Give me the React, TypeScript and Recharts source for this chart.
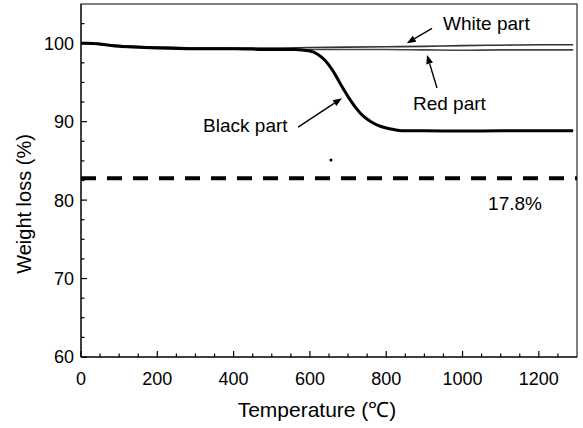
import {
  ComposedChart,
  Line,
  XAxis,
  YAxis,
  ReferenceLine,
  ReferenceDot,
} from 'recharts'

const FONT = '"Liberation Sans", Arial, Helvetica, sans-serif'

// TGA curves
const blackTemp = [0, 20, 50, 100, 150, 200, 300, 400, 500, 560, 600, 620, 640, 660, 680, 700, 720, 740, 760, 780, 800, 820, 840, 900, 1000, 1100, 1200, 1290]
const blackWeight = [100, 100, 99.9, 99.6, 99.5, 99.4, 99.3, 99.3, 99.2, 99.2, 99.0, 98.6, 97.8, 96.5, 94.8, 93.2, 91.8, 90.7, 90.0, 89.5, 89.2, 89.0, 88.85, 88.85, 88.8, 88.85, 88.85, 88.85]

const lightTemp = [0, 100, 200, 300, 400, 500, 600, 700, 800, 900, 1000, 1100, 1200, 1290]
const whiteWeight = [100, 99.7, 99.5, 99.4, 99.4, 99.4, 99.45, 99.5, 99.55, 99.6, 99.7, 99.75, 99.8, 99.8]
const redWeight = [100, 99.7, 99.5, 99.4, 99.3, 99.25, 99.2, 99.2, 99.2, 99.15, 99.1, 99.15, 99.15, 99.15]

const residue = 82.8 // 17.8 % loss line

const X_DOMAIN = [0, 1300]
const Y_DOMAIN = [60, 105]
const xMajor = [0, 200, 400, 600, 800, 1000, 1200]
const xMinor = Array.from({ length: 26 }, (_, i) => i * 50)
const yMajor = [60, 70, 80, 90, 100]
const yMinor = Array.from({ length: 18 }, (_, i) => 60 + i * 2.5)

const toPoints = (t: number[], w: number[]) => t.map((temp, i) => ({ temp, weight: w[i] }))

const blackData = toPoints(blackTemp, blackWeight)
const whiteData = toPoints(lightTemp, whiteWeight)
const redData = toPoints(lightTemp, redWeight)

// annotation anchors (data units)
const notes = [
  { text: 'White part', temp: 949, weight: 101.7 },
  { text: 'Red part', temp: 870, weight: 91.5 },
  { text: 'Black part', temp: 320, weight: 88.7 },
  { text: '17.8%', temp: 1067, weight: 78.7 },
]
const arrows = [
  { from: { x: 920, y: 101.9 }, to: { x: 854, y: 100.0 } },
  { from: { x: 933, y: 94.3 }, to: { x: 907, y: 98.5 } },
  { from: { x: 569, y: 89.3 }, to: { x: 684, y: 93.0 } },
]

// two points inside the plot; the library maps them to pixels and the frame
// and the inward tick marks are placed from that mapping
const calib = [{ x: 100, y: 65 }, { x: 1200, y: 100 }]

const tickFont = { fontSize: 18, fontFamily: FONT, fill: '#000' }

function Arrow(props: any) {
  const { x1, y1, x2, y2 } = props
  const a = Math.atan2(y2 - y1, x2 - x1)
  const len = 9
  const half = 3.5
  const bx = x2 - len * Math.cos(a)
  const by = y2 - len * Math.sin(a)
  const pts = [
    `${x2},${y2}`,
    `${bx + half * Math.sin(a)},${by - half * Math.cos(a)}`,
    `${bx - half * Math.sin(a)},${by + half * Math.cos(a)}`,
  ].join(' ')
  return (
    <g>
      <line x1={x1} y1={y1} x2={bx} y2={by} stroke="#000" strokeWidth={1.4} />
      <polygon points={pts} fill="#000" />
    </g>
  )
}

function FrameAndTicks(props: any) {
  const { x1, y1, x2, y2 } = props
  const sx = (x2 - x1) / (calib[1].x - calib[0].x)
  const sy = (y2 - y1) / (calib[1].y - calib[0].y)
  const X = (v: number) => x1 + (v - calib[0].x) * sx
  const Y = (v: number) => y1 + (v - calib[0].y) * sy
  const left = X(X_DOMAIN[0])
  const right = X(X_DOMAIN[1])
  const top = Y(Y_DOMAIN[1])
  const bottom = Y(Y_DOMAIN[0])
  return (
    <g>
      <rect x={left} y={top} width={right - left} height={bottom - top} fill="none" stroke="#000" strokeWidth={1} />
      {xMinor.map((v) => (
        <line
          key={`xt-${v}`}
          x1={X(v)}
          x2={X(v)}
          y1={bottom}
          y2={bottom - (v % 200 === 0 ? 6 : 3.5)}
          stroke="#000"
          strokeWidth={1.2}
        />
      ))}
      {yMinor.map((v) => (
        <line
          key={`yt-${v}`}
          x1={left}
          x2={left + (v % 10 === 0 ? 6 : 3.5)}
          y1={Y(v)}
          y2={Y(v)}
          stroke="#000"
          strokeWidth={1.2}
        />
      ))}
    </g>
  )
}

const noteShape = (text: string) => (p: any) => (
  <text x={p.cx} y={p.cy} fontSize={19} fontFamily={FONT} fill="#000">
    {text}
  </text>
)

export default function App() {
  return (
    <div style={{ position: 'absolute', left: 0, top: 0, background: '#fff' }}>
      <ComposedChart
        width={583}
        height={428}
        margin={{ top: 4, right: 6, left: 0, bottom: 0 }}
      >
        <XAxis
          dataKey="temp"
          type="number"
          domain={X_DOMAIN}
          ticks={xMajor}
          interval={0}
          allowDataOverflow
          height={71}
          tickSize={0}
          tickMargin={15}
          tickLine={false}
          axisLine={{ stroke: '#000' }}
          tick={tickFont}
          label={{
            content: (p: any) => {
              const vb = p.viewBox
              return (
                <text
                  x={vb.x + vb.width / 2 - 12}
                  y={vb.y + 60}
                  textAnchor="middle"
                  fontSize={21}
                  fontFamily={FONT}
                  fill="#000"
                >
                  Temperature (℃)
                </text>
              )
            },
          }}
        />
        <YAxis
          type="number"
          domain={Y_DOMAIN}
          ticks={yMajor}
          interval={0}
          allowDataOverflow
          width={81}
          tickSize={0}
          tickMargin={7}
          tickLine={false}
          axisLine={{ stroke: '#000' }}
          tick={tickFont}
          label={{
            content: () => (
              <text
                x={31}
                y={204}
                transform="rotate(-90, 31, 204)"
                textAnchor="middle"
                fontSize={20}
                fontFamily={FONT}
                fill="#000"
              >
                Weight loss (%)
              </text>
            ),
          }}
        />
        <ReferenceLine y={residue} stroke="#000" strokeWidth={4} strokeDasharray="15 11" />
        <Line
          data={whiteData}
          dataKey="weight"
          type="monotone"
          stroke="#333"
          strokeWidth={1.6}
          dot={false}
          isAnimationActive={false}
        />
        <Line
          data={redData}
          dataKey="weight"
          type="monotone"
          stroke="#444"
          strokeWidth={1.6}
          dot={false}
          isAnimationActive={false}
        />
        <Line
          data={blackData}
          dataKey="weight"
          type="monotone"
          stroke="#000"
          strokeWidth={3}
          dot={false}
          isAnimationActive={false}
        />
        <ReferenceLine segment={calib} shape={FrameAndTicks} />
        {arrows.map((a, i) => (
          <ReferenceLine key={`arrow-${i}`} segment={[a.from, a.to]} shape={Arrow} />
        ))}
        {notes.map((n) => (
          <ReferenceDot key={n.text} x={n.temp} y={n.weight} r={0} shape={noteShape(n.text)} />
        ))}
        <ReferenceDot x={655} y={85.1} r={1.5} fill="#000" stroke="none" />
      </ComposedChart>
    </div>
  )
}
